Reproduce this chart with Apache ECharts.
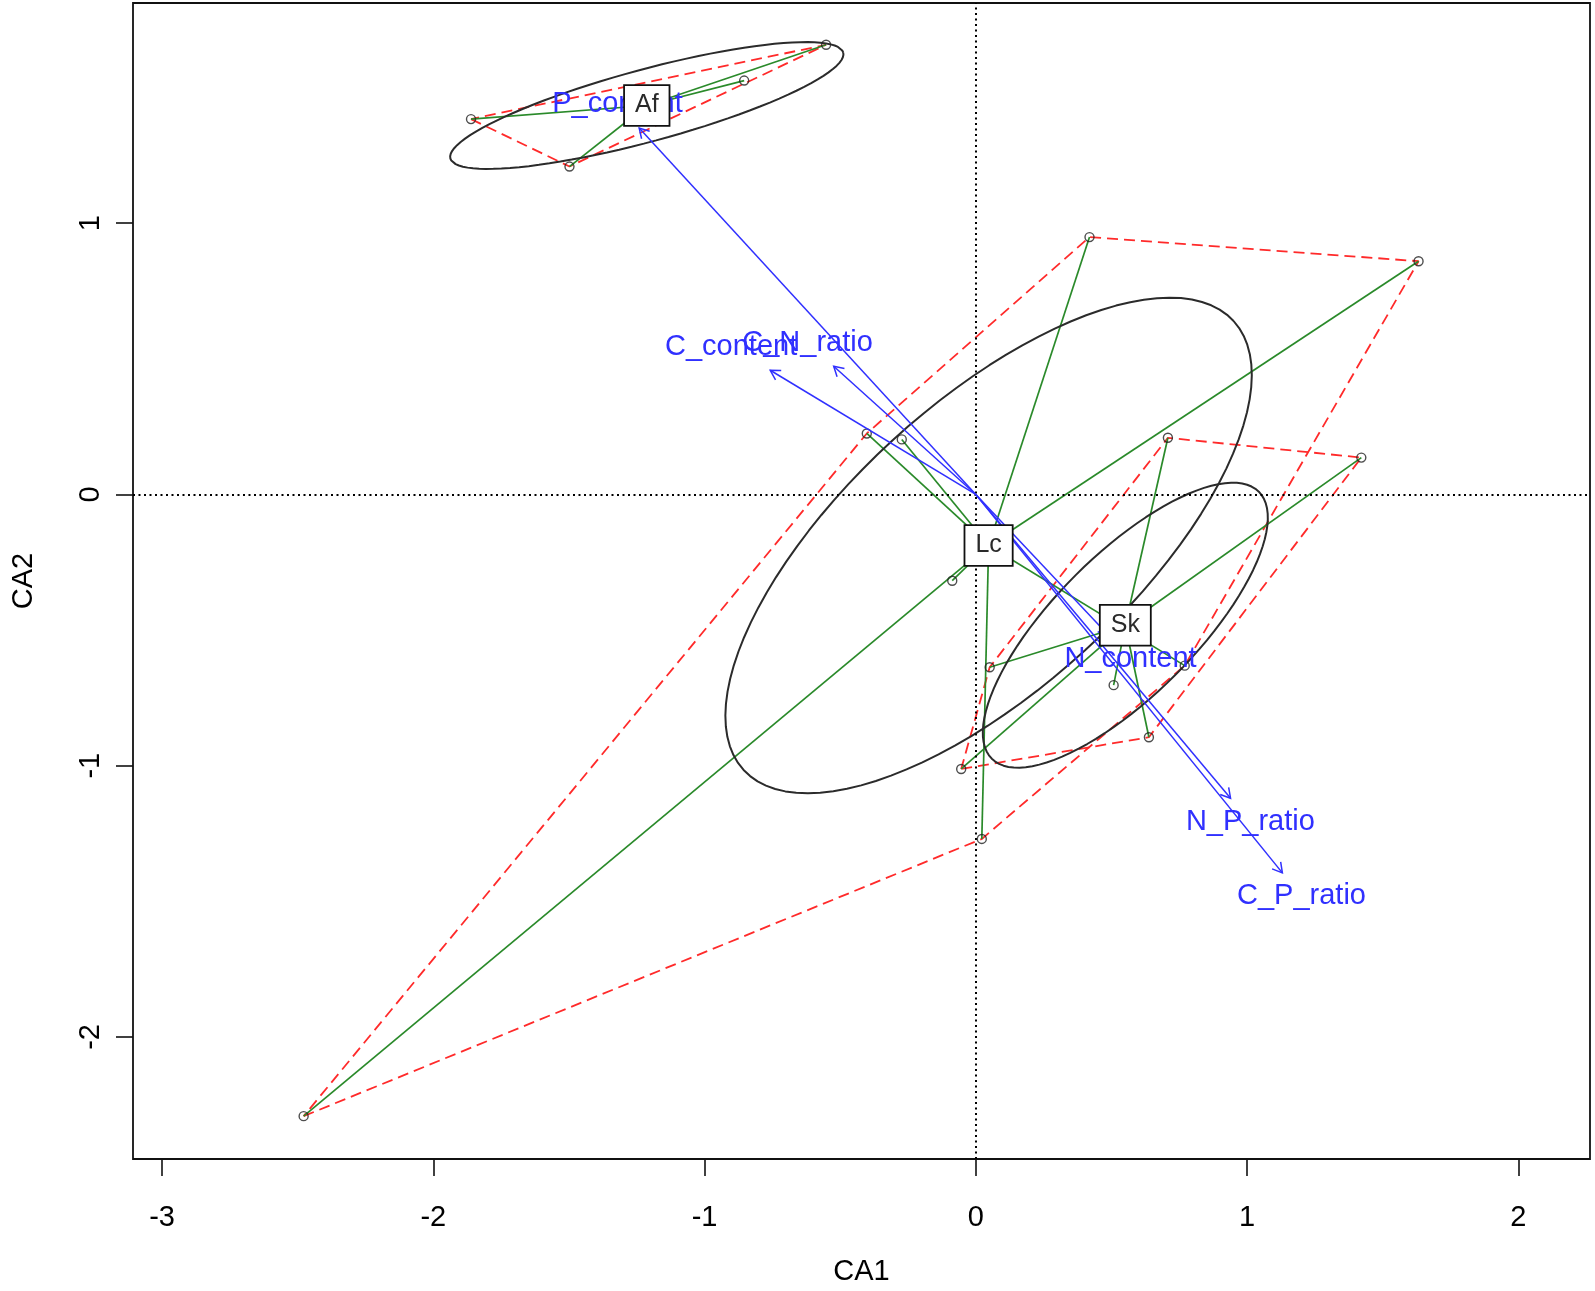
<!DOCTYPE html>
<html>
<head>
<meta charset="utf-8">
<script src="https://cdn.jsdelivr.net/npm/echarts@6/dist/echarts.min.js"></script>
<style>
html,body{margin:0;padding:0;background:#fff;}
#chart{width:1595px;height:1291px;}
</style>
</head>
<body>
<div id="chart"></div>
<script>
// ---------------- data ----------------
const groupNames = ['Af', 'Lc', 'Sk'];

const siteCA1 = [-0.552, -0.854, -1.861, -1.498,
                  0.419, 1.632, -0.402, -0.273, -0.087, 0.022, -2.478, 0.770,
                  0.708, 1.421, 0.051, 0.508, 0.638, -0.054];
const siteCA2 = [1.658, 1.526, 1.384, 1.209,
                 0.949, 0.860, 0.225, 0.203, -0.318, -1.270, -2.292, -0.631,
                 0.209, 0.136, -0.637, -0.703, -0.895, -1.012];
const siteGroup = ['Af', 'Af', 'Af', 'Af',
                   'Lc', 'Lc', 'Lc', 'Lc', 'Lc', 'Lc', 'Lc', 'Lc',
                   'Sk', 'Sk', 'Sk', 'Sk', 'Sk', 'Sk'];

const centroidCA1 = [-1.213, 0.047, 0.551];
const centroidCA2 = [1.434, -0.188, -0.482];

const ellipseSemiMajor = [0.750, 1.225, 0.696];
const ellipseSemiMinor = [0.133, 0.525, 0.260];
const ellipseAngleDeg  = [15.1, 42.5, 45.0];

const vectorNames = ['P_content', 'C_content', 'C_N_ratio', 'N_content', 'N_P_ratio', 'C_P_ratio'];
const vectorCA1 = [-1.241, -0.758, -0.524, 0.488, 0.939, 1.130];
const vectorCA2 = [1.351, 0.458, 0.473, -0.518, -1.120, -1.395];

const xTickValues = [-3, -2, -1, 0, 1, 2];
const yTickValues = [-2, -1, 0, 1];
const xLimits = [-3.107, 2.264];
const yLimits = [-2.450, 1.812];

// ---------------- styles ----------------
const FONT = "'Liberation Sans', Arial, sans-serif";
const GREEN = '#2a8a2a';
const RED = '#ff2a2a';
const BLUE = '#3030ff';
const ELL = '#2b2b2b';
const AXIS_FS = 29;
const VEC_FS = 29;
const VEC_BOX_H = 31.5;   // text box height used for label offset (vegan rule)

// ---------------- helpers ----------------
function convexHull(pts) {
  const p = pts.slice().sort((a, b) => a[0] - b[0] || a[1] - b[1]);
  const cross = (o, a, b) => (a[0] - o[0]) * (b[1] - o[1]) - (a[1] - o[1]) * (b[0] - o[0]);
  const lower = [];
  for (const q of p) { while (lower.length >= 2 && cross(lower[lower.length - 2], lower[lower.length - 1], q) <= 0) lower.pop(); lower.push(q); }
  const upper = [];
  for (let i = p.length - 1; i >= 0; i--) { const q = p[i]; while (upper.length >= 2 && cross(upper[upper.length - 2], upper[upper.length - 1], q) <= 0) upper.pop(); upper.push(q); }
  upper.pop(); lower.pop();
  return lower.concat(upper);
}
function ellipsePath(cx, cy, a, b, deg) {
  const th = deg * Math.PI / 180, out = [];
  for (let k = 0; k <= 100; k++) {
    const t = 2 * Math.PI * k / 100;
    out.push([cx + a * Math.cos(t) * Math.cos(th) - b * Math.sin(t) * Math.sin(th),
              cy + a * Math.cos(t) * Math.sin(th) + b * Math.sin(t) * Math.cos(th)]);
  }
  return out;
}
const measureCtx = document.createElement('canvas').getContext('2d');
function textWidth(s, fs) { measureCtx.font = fs + 'px ' + FONT; return measureCtx.measureText(s).width; }

// ---------------- series ----------------
const series = [];

// zero lines (dotted)
series.push({
  type: 'line', data: [], silent: true, z: 1,
  markLine: {
    silent: true, symbol: 'none', label: { show: false }, animation: false,
    lineStyle: { color: '#000', type: [2, 3.5], width: 2 },
    data: [{ xAxis: 0 }, { yAxis: 0 }]
  }
});

groupNames.forEach((g, gi) => {
  const pts = [];
  siteCA1.forEach((x, i) => { if (siteGroup[i] === g) pts.push([x, siteCA2[i]]); });
  const hull = convexHull(pts); hull.push(hull[0]);
  // hull (red dashed)
  series.push({
    type: 'line', data: hull, showSymbol: false, symbol: 'none', silent: true, z: 2,
    lineStyle: { color: RED, width: 1.8, type: [11, 6] }
  });
  // spider (green)
  series.push({
    type: 'lines', coordinateSystem: 'cartesian2d', silent: true, z: 3,
    lineStyle: { color: GREEN, width: 1.7, opacity: 1 },
    data: pts.map(p => ({ coords: [[centroidCA1[gi], centroidCA2[gi]], p] }))
  });
  // ellipse (black)
  series.push({
    type: 'line', showSymbol: false, symbol: 'none', silent: true, z: 4,
    data: ellipsePath(centroidCA1[gi], centroidCA2[gi], ellipseSemiMajor[gi], ellipseSemiMinor[gi], ellipseAngleDeg[gi]),
    lineStyle: { color: ELL, width: 2 }
  });
});

// sites (open circles)
series.push({
  type: 'scatter', z: 5, silent: true,
  symbol: 'circle', symbolSize: 9,
  itemStyle: { color: 'transparent', borderColor: '#222', borderWidth: 1.4 },
  data: siteCA1.map((x, i) => [x, siteCA2[i]])
});

// environmental vectors (blue arrows + labels)
series.push({
  type: 'custom', coordinateSystem: 'cartesian2d', z: 6, silent: true,
  data: vectorNames.map((n, i) => [vectorCA1[i], vectorCA2[i]]),
  renderItem: function (params, api) {
    const name = vectorNames[params.dataIndex];
    const o = api.coord([0, 0]);
    const t = api.coord([api.value(0), api.value(1)]);
    const ang = Math.atan2(t[1] - o[1], t[0] - o[0]);
    const L = 11, A = Math.PI / 6;
    const h1 = [t[0] - L * Math.cos(ang - A), t[1] - L * Math.sin(ang - A)];
    const h2 = [t[0] - L * Math.cos(ang + A), t[1] - L * Math.sin(ang + A)];
    // label placement following vegan's ordiArrowTextXY rule
    const w = textWidth(name, VEC_FS), h = VEC_BOX_H;
    const dx = t[0] - o[0], dyUp = o[1] - t[1];
    const b = dyUp / dx;
    let offX = Math.sign(dx) * (w / 2 + h / 4), offY = 0.75 * h * Math.sign(dyUp);
    const move = offY / b;
    if (isFinite(move) && Math.abs(move) <= Math.abs(offX)) offX = move; else offY = b * offX;
    return {
      type: 'group',
      children: [
        { type: 'line', shape: { x1: o[0], y1: o[1], x2: t[0], y2: t[1] }, style: { stroke: BLUE, lineWidth: 1.5 } },
        { type: 'polyline', shape: { points: [h1, t, h2] }, style: { stroke: BLUE, fill: null, lineWidth: 1.5 } },
        { type: 'text', x: t[0] + offX, y: t[1] - offY,
          style: { text: name, fill: BLUE, fontSize: VEC_FS, fontFamily: FONT, align: 'center', verticalAlign: 'middle' } }
      ]
    };
  }
});

// group labels in boxes
series.push({
  type: 'scatter', z: 10, silent: true, symbol: 'circle', symbolSize: 0,
  itemStyle: { color: '#fff', opacity: 1 },
  data: groupNames.map((g, i) => ({ name: g, value: [centroidCA1[i], centroidCA2[i]] })),
  label: {
    show: true, position: 'inside', formatter: '{b}', opacity: 1,
    fontSize: 25, fontFamily: FONT, color: '#2a2a2a', lineHeight: 25,
    backgroundColor: '#ffffff', borderColor: '#111', borderWidth: 1.8, padding: [7, 10]
  }
});

const chart = echarts.init(document.getElementById('chart'), null, { renderer: 'canvas' });
chart.setOption({
  animation: false,
  backgroundColor: '#fff',
  grid: { left: 133, right: 5, top: 3, bottom: 130, show: true, borderColor: '#111', borderWidth: 1.8, backgroundColor: 'transparent' },
  xAxis: {
    type: 'value', min: xLimits[0], max: xLimits[1],
    splitLine: { show: false }, axisLine: { show: false, onZero: false },
    axisTick: { show: true, length: 17, customValues: xTickValues, lineStyle: { color: '#111', width: 1.6 } },
    axisLabel: { customValues: xTickValues, fontSize: AXIS_FS, fontFamily: FONT, color: '#000', margin: 44 },
    name: 'CA1', nameLocation: 'middle', nameGap: 98,
    nameTextStyle: { fontSize: AXIS_FS, fontFamily: FONT, color: '#000' }
  },
  yAxis: {
    type: 'value', min: yLimits[0], max: yLimits[1],
    splitLine: { show: false }, axisLine: { show: false, onZero: false },
    axisTick: { show: true, length: 17, customValues: yTickValues, lineStyle: { color: '#111', width: 1.6 } },
    axisLabel: { customValues: yTickValues, fontSize: AXIS_FS, fontFamily: FONT, color: '#000', margin: 28, rotate: 90 },
    name: 'CA2', nameLocation: 'middle', nameGap: 95,
    nameTextStyle: { fontSize: AXIS_FS, fontFamily: FONT, color: '#000' }
  },
  series: series
});
</script>
</body>
</html>
